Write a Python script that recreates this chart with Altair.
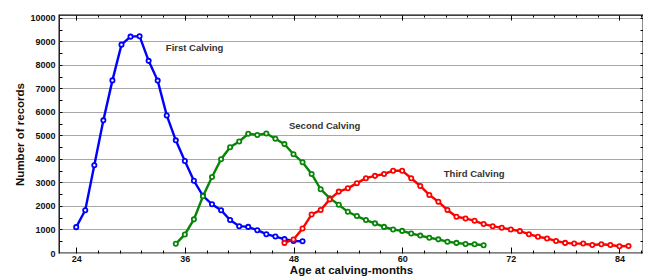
import altair as alt
import pandas as pd

# ---- data ----
first_months = list(range(24, 50))
first_counts = [1100, 1820, 3730, 5640, 7340, 8860, 9200, 9220, 8170, 7330,
                5850, 4790, 3910, 3070, 2430, 2070, 1820, 1400, 1140, 1110,
                970, 800, 700, 590, 510, 500]

second_months = list(range(35, 70))
second_counts = [390, 790, 1430, 2410, 3230, 3990, 4500, 4740, 5070, 5020,
                 5080, 4860, 4630, 4200, 3860, 3360, 2710, 2330, 2050, 1750,
                 1570, 1400, 1260, 1110, 1000, 940, 830, 740, 650, 580,
                 480, 430, 385, 370, 330]

third_months = list(range(47, 86))
third_counts = [430, 570, 1040, 1640, 1830, 2280, 2610, 2750, 2970, 3180,
                3280, 3360, 3500, 3500, 3180, 2850, 2470, 2180, 1830, 1540,
                1470, 1370, 1230, 1140, 1070, 1000, 930, 800, 690, 620,
                510, 430, 400, 400, 340, 370, 340, 290, 300]

series_names = ["First", "Second", "Third"]
series_colors = ["#0000ff", "#078507", "#ff0000"]

label_texts = ["First Calving", "Second Calving", "Third Calving"]
label_x = [33.9, 47.5, 64.6]
label_y = [8700, 5420, 3360]

x_major = [24, 36, 48, 60, 72, 84]
x_minor = [round(24 + 2.4 * k, 1) for k in range(0, 27) if k % 5 != 0]
y_labels = list(range(0, 10001, 1000))
y_ticks = list(range(500, 10001, 500))

rows = []
for name, ms, cs in [("First", first_months, first_counts),
                     ("Second", second_months, second_counts),
                     ("Third", third_months, third_counts)]:
    for m, c in zip(ms, cs):
        rows.append({"series": name, "month": m, "count": c})
df = pd.DataFrame(rows)
ann = pd.DataFrame({"text": label_texts, "tx": label_x, "ty": label_y})

xscale = alt.Scale(domain=[22.1, 86.6], nice=False, zero=False)
yscale = alt.Scale(domain=[0, 10120], nice=False, zero=True)
cscale = alt.Scale(domain=series_names, range=series_colors)

ax_main_x = alt.Axis(orient="bottom", values=x_major, title="Age at calving-months",
                     ticks=False, domain=False, grid=False, labelPadding=1,
                     titlePadding=1, titleFontSize=11.5, format="d")
ax_main_y = alt.Axis(orient="left", values=y_labels, title="Number of records",
                     ticks=False, domain=False, grid=True, gridColor="#a8a8a8",
                     gridWidth=1, labelPadding=4, titlePadding=4,
                     titleFontSize=11.5, format="d")


def tick_axis(orient, vals, size):
    return alt.Axis(orient=orient, values=vals, offset=-size, tickSize=size,
                    labels=False, domain=False, grid=False, title=None,
                    tickColor="black", tickWidth=1)


lines = alt.Chart(df).mark_line(strokeWidth=2.4).encode(
    x=alt.X("month:Q", scale=xscale, axis=ax_main_x),
    y=alt.Y("count:Q", scale=yscale, axis=ax_main_y),
    color=alt.Color("series:N", scale=cscale, legend=None),
    detail="series:N",
)

points = alt.Chart(df).mark_point(shape="circle", filled=True, size=18,
                                  strokeWidth=1.8, opacity=1).encode(
    x=alt.X("month:Q", scale=xscale, axis=tick_axis("bottom", x_major, 6)),
    y=alt.Y("count:Q", scale=yscale, axis=tick_axis("left", y_ticks, 3)),
    fill=alt.value("white"),
    stroke=alt.Stroke("series:N", scale=cscale, legend=None),
)

labels = alt.Chart(ann).mark_text(align="left", baseline="middle",
                                  font="Liberation Sans", fontSize=9.5,
                                  fontWeight="bold", color="#333333").encode(
    x=alt.X("tx:Q", scale=xscale, axis=tick_axis("bottom", x_minor, 3)),
    y=alt.Y("ty:Q", scale=yscale, axis=tick_axis("right", y_ticks, 3)),
    text="text:N",
)

ghost1 = alt.Chart(df).mark_point(opacity=0).encode(
    x=alt.X("month:Q", scale=xscale, axis=tick_axis("top", x_major, 5)),
    y=alt.Y("count:Q", scale=yscale, axis=None),
)
ghost2 = alt.Chart(df).mark_point(opacity=0).encode(
    x=alt.X("month:Q", scale=xscale, axis=tick_axis("top", x_minor, 2)),
    y=alt.Y("count:Q", scale=yscale, axis=None),
)

chart = alt.layer(lines, points, labels, ghost1, ghost2).resolve_axis(
    x="independent", y="independent"
).properties(
    width=584, height=238,
    autosize=alt.AutoSizeParams(type="none"),
    padding={"left": 51, "top": 7, "right": 0, "bottom": 24},
    background="white",
).configure_view(
    stroke="black", strokeWidth=1.3
).configure_axis(
    labelFont="Liberation Sans", titleFont="Liberation Sans",
    labelFontWeight="bold", titleFontWeight="bold",
    labelFontSize=9, labelColor="#111111", titleColor="#111111",
)

chart.save("out.html", embed_options={"renderer": "svg", "actions": False})
